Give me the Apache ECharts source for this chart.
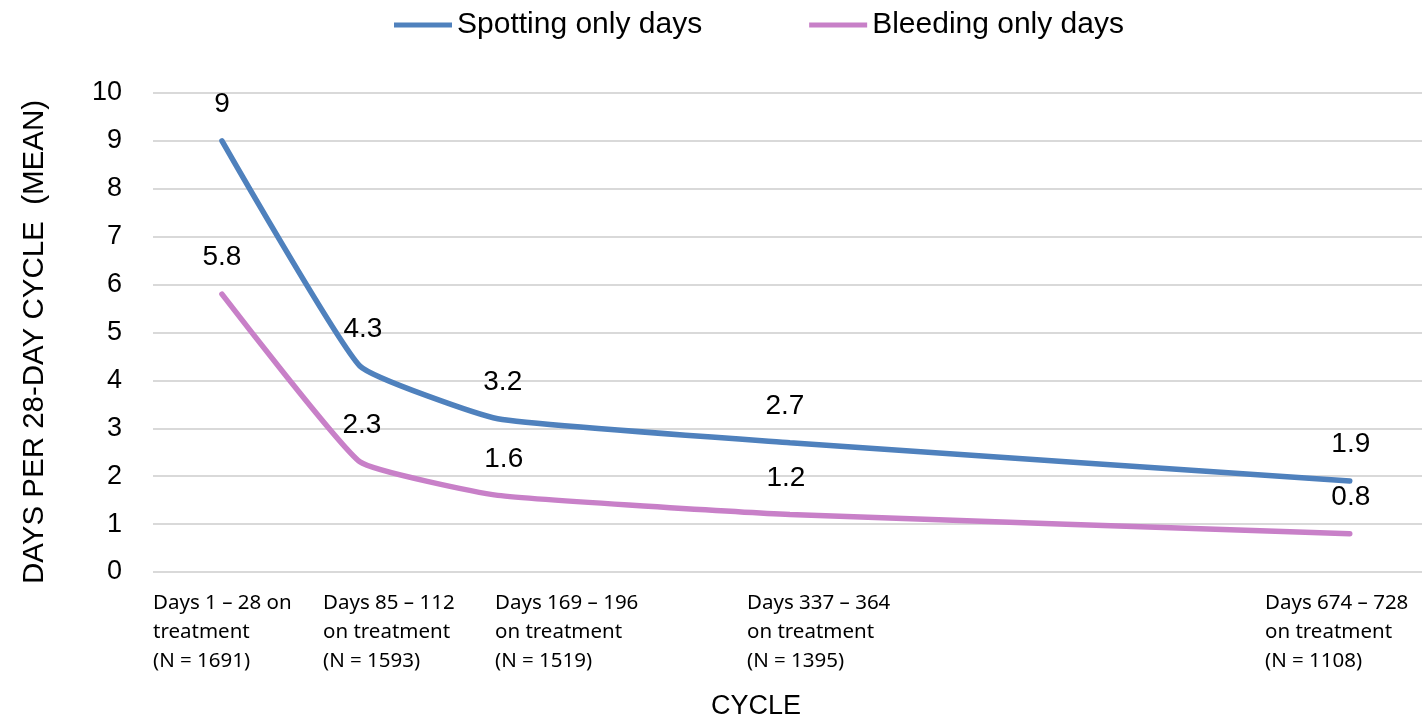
<!DOCTYPE html>
<html>
<head>
<meta charset="utf-8">
<script src="https://cdn.jsdelivr.net/npm/echarts@6/dist/echarts.min.js"></script>
<style>
  html, body { margin: 0; padding: 0; background: #fff; }
  #main { width: 1425px; height: 721px; }
</style>
</head>
<body>
<div id="main"></div>
<script>
// day on treatment at each cycle point
const cycleDay = [14, 98, 182, 360, 701];
const cycleLabels = [
  'Days 1 – 28 on\ntreatment\n(N = 1691)',
  'Days 85 – 112\non treatment\n(N = 1593)',
  'Days 169 – 196\non treatment\n(N = 1519)',
  'Days 337 – 364\non treatment\n(N = 1395)',
  'Days 674 – 728\non treatment\n(N = 1108)'
];
const spotting = [9, 4.3, 3.2, 2.7, 1.9];
const bleeding = [5.8, 2.3, 1.6, 1.2, 0.8];

// left edge of each cycle text block
const labelLeft = [153, 323, 495, 747, 1265];
// small sideways nudges of the value labels, as in the original
const spotNudge = [0, 3, 5, -5, 1];
const bleedNudge = [0, 2, 6, -4, 1];

const chart = echarts.init(document.getElementById('main'));

function pairs(vals, nudge) {
  return vals.map((v, i) => ({
    value: [cycleDay[i], v],
    label: { offset: [nudge[i], 0] }
  }));
}

const labelStyle = {
  show: true,
  position: 'top',
  distance: 22,
  fontFamily: 'Liberation Sans',
  fontSize: 28,
  color: '#000'
};

chart.setOption({
  animation: false,
  legend: {
    left: 389,
    top: 5,
    itemWidth: 58,
    itemHeight: 5,
    itemGap: 107,
    icon: 'rect',
    textStyle: { fontFamily: 'Liberation Sans', fontSize: 30, color: '#000' },
    data: ['Spotting only days', 'Bleeding only days']
  },
  grid: { left: 153, right: 3, top: 93, bottom: 149 },
  xAxis: {
    type: 'value',
    min: -28,
    max: 745,
    axisLine: { show: false },
    axisTick: { show: false },
    axisLabel: { show: false },
    splitLine: { show: false }
  },
  yAxis: {
    type: 'value',
    min: 0,
    max: 10,
    interval: 1,
    axisLine: { show: false },
    axisTick: { show: false },
    axisLabel: { margin: 31, fontFamily: 'Liberation Sans', fontSize: 27, color: '#000' },
    splitLine: { lineStyle: { color: '#d9d9d9', width: 2 } }
  },
  series: [
    {
      name: 'Spotting only days',
      type: 'line',
      data: pairs(spotting, spotNudge),
      smooth: 0.12,
      symbol: 'circle',
      symbolSize: 1,
      color: '#4f81bd',
      lineStyle: { width: 5.5, cap: 'round' },
      label: labelStyle
    },
    {
      name: 'Bleeding only days',
      type: 'line',
      data: pairs(bleeding, bleedNudge),
      smooth: 0.12,
      symbol: 'circle',
      symbolSize: 1,
      color: '#c880c8',
      lineStyle: { width: 5.5, cap: 'round' },
      label: labelStyle
    }
  ],
  graphic: cycleLabels.map((t, i) => ({
    type: 'text',
    left: labelLeft[i],
    top: 589,
    style: {
      text: t,
      fontFamily: 'Noto Sans',
      fontSize: 20.5,
      lineHeight: 29,
      fill: '#000'
    }
  })).concat([
    {
      type: 'text',
      left: 711,
      top: 693,
      style: { text: 'CYCLE', fontFamily: 'Liberation Sans', fontSize: 27, fill: '#000' }
    },
    {
      type: 'text',
      x: 35,
      y: 342,
      rotation: Math.PI / 2,
      style: {
        text: 'DAYS PER 28-DAY CYCLE  (MEAN)',
        fontFamily: 'Liberation Sans',
        fontSize: 29.5,
        fill: '#000',
        align: 'center',
        verticalAlign: 'middle'
      }
    }
  ])
});
</script>
</body>
</html>
